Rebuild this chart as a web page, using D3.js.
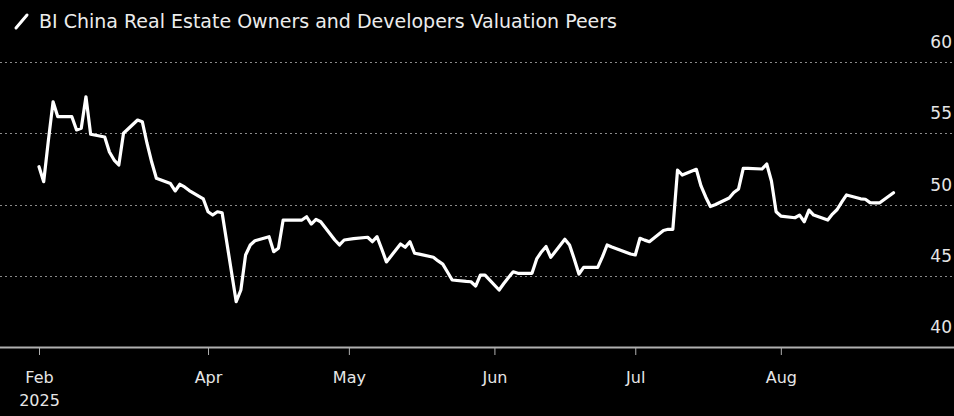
<!DOCTYPE html>
<html>
<head>
<meta charset="utf-8">
<script src="https://cdn.jsdelivr.net/npm/d3@7"></script>
<style>
  html, body { margin: 0; padding: 0; background: #000; }
  svg { display: block; font-family: "DejaVu Sans", sans-serif; }
</style>
</head>
<body>
<div id="chart_div"></div>
<script>
const title = "BI China Real Estate Owners and Developers Valuation Peers";

const dates = [
  "2025-02-24","2025-02-25","2025-02-26","2025-02-27","2025-02-28",
  "2025-03-03","2025-03-04","2025-03-05","2025-03-06","2025-03-07",
  "2025-03-10","2025-03-11","2025-03-12","2025-03-13","2025-03-14",
  "2025-03-17","2025-03-18","2025-03-19","2025-03-20","2025-03-21",
  "2025-03-24","2025-03-25","2025-03-26","2025-03-27","2025-03-28",
  "2025-03-31","2025-04-01","2025-04-02","2025-04-03","2025-04-04",
  "2025-04-07","2025-04-08","2025-04-09","2025-04-10","2025-04-11",
  "2025-04-14","2025-04-15","2025-04-16","2025-04-17",
  "2025-04-21","2025-04-22","2025-04-23","2025-04-24","2025-04-25",
  "2025-04-28","2025-04-29","2025-04-30","2025-05-02",
  "2025-05-05","2025-05-06","2025-05-07","2025-05-08","2025-05-09",
  "2025-05-12","2025-05-13","2025-05-14","2025-05-15","2025-05-16",
  "2025-05-19","2025-05-20","2025-05-21","2025-05-22","2025-05-23",
  "2025-05-26","2025-05-27","2025-05-28","2025-05-29","2025-05-30",
  "2025-06-02","2025-06-03","2025-06-04","2025-06-05","2025-06-06",
  "2025-06-09","2025-06-10","2025-06-11","2025-06-12","2025-06-13",
  "2025-06-16","2025-06-17","2025-06-18","2025-06-19","2025-06-20",
  "2025-06-23","2025-06-24","2025-06-25","2025-06-26","2025-06-27",
  "2025-06-30","2025-07-01","2025-07-02","2025-07-03","2025-07-04",
  "2025-07-07","2025-07-08","2025-07-09","2025-07-10","2025-07-11",
  "2025-07-14","2025-07-15","2025-07-16","2025-07-17","2025-07-18",
  "2025-07-21","2025-07-22","2025-07-23","2025-07-24","2025-07-25",
  "2025-07-28","2025-07-29","2025-07-30","2025-07-31","2025-08-01",
  "2025-08-04","2025-08-05","2025-08-06","2025-08-07","2025-08-08",
  "2025-08-11","2025-08-12","2025-08-13","2025-08-14","2025-08-15",
  "2025-08-18","2025-08-19","2025-08-20","2025-08-21","2025-08-22",
  "2025-08-25"
];

const values = [
  52.65, 51.60, 54.50, 57.21, 56.16,
  56.16, 55.23, 55.35, 57.56, 54.93,
  54.74, 53.68, 53.12, 52.77, 55.00,
  55.93, 55.81, 54.30, 52.98, 51.84,
  51.47, 50.95, 51.42, 51.23, 50.98,
  50.39, 49.49, 49.26, 49.49, 49.42,
  43.18, 44.00, 46.46, 47.16, 47.46,
  47.74, 46.69, 46.93, 48.91,
  48.91, 49.14, 48.63, 48.96, 48.79,
  47.51, 47.16, 47.51, 47.61,
  47.70, 47.39, 47.74, 46.88, 45.97,
  47.23, 47.00, 47.39, 46.58, 46.52,
  46.30, 46.04, 45.82, 45.26, 44.70,
  44.60, 44.58, 44.28, 45.05, 45.05,
  44.00, 44.46, 44.88, 45.28, 45.17,
  45.17, 46.18, 46.67, 47.05, 46.29,
  47.56, 47.16, 46.18, 45.12, 45.59,
  45.59, 46.32, 47.16, 47.02, 46.90,
  46.53, 46.46, 47.63, 47.50, 47.39,
  48.18, 48.26, 48.26, 52.42, 52.07,
  52.47, 51.30, 50.53, 49.86, 49.98,
  50.46, 50.84, 51.09, 52.54, 52.53,
  52.49, 52.84, 51.65, 49.49, 49.19,
  49.07, 49.26, 48.79, 49.61, 49.26,
  48.91, 49.33, 49.65, 50.18, 50.67,
  50.40, 50.37, 50.13, 50.11, 50.11,
  50.83
];

const yTicks = [40, 45, 50, 55, 60];
const xTickDates = ["2025-02-24","2025-04-01","2025-05-01","2025-06-01","2025-07-01","2025-08-01"];
const xTickLabels = ["Feb", "Apr", "May", "Jun", "Jul", "Aug"];
const xYearLabel = "2025";

const width = 954;
const height = 416;
const parse = d3.utcParse("%Y-%m-%d");

const data = dates.map((d, i) => ({ date: parse(d), value: values[i] }));

const svg = d3.select("#chart_div")
    .append("svg")
    .attr("width", width)
    .attr("height", height);

svg.append("rect")
    .attr("width", width)
    .attr("height", height)
    .attr("fill", "#000");

const x = d3.scaleUtc()
    .domain([parse("2025-02-24"), parse("2025-08-25")])
    .range([39, 893.5]);

const y = d3.scaleLinear()
    .domain([40, 60])
    .range([347, 62]);

// title with the little slash marker
svg.append("line")
    .attr("x1", 16).attr("y1", 28)
    .attr("x2", 27).attr("y2", 15)
    .attr("stroke", "#fff")
    .attr("stroke-width", 3)
    .attr("stroke-linecap", "round");

svg.append("text")
    .attr("x", 39)
    .attr("y", 28)
    .attr("fill", "#ececec")
    .attr("font-size", 19)
    .text(title);

// dotted gridlines
svg.append("g")
    .selectAll("line")
    .data(yTicks.filter(t => t > 40))
    .enter()
    .append("line")
    .attr("x1", 0)
    .attr("x2", width)
    .attr("y1", d => Math.round(y(d)) + 0.5)
    .attr("y2", d => Math.round(y(d)) + 0.5)
    .attr("stroke", "#8a8a8a")
    .attr("stroke-width", 1)
    .attr("stroke-dasharray", "2,3");

// right side labels, sitting above their gridline
const yAxis = (g) => g.append("g")
    .attr("transform", `translate(${width - 2},0)`)
    .call(d3.axisRight(y).tickValues(yTicks).tickSize(0).tickPadding(0))
    .call(g => g.select(".domain").remove())
    .call(g => g.selectAll("text")
        .attr("text-anchor", "end")
        .attr("dy", "-0.85em")
        .attr("fill", "#e6e6e6")
        .attr("font-size", 17)
        .attr("font-family", "DejaVu Sans, sans-serif"));

// bottom axis
const xAxis = (g) => g.append("g")
    .attr("transform", `translate(0,347)`)
    .call(d3.axisBottom(x)
        .tickValues(xTickDates.map(parse))
        .tickFormat((d, i) => xTickLabels[i])
        .tickSize(8)
        .tickPadding(17))
    .call(g => g.select(".domain")
        .attr("d", `M0,0.5H${width}`)
        .attr("stroke", "#b0b0b0")
        .attr("stroke-width", 2))
    .call(g => g.selectAll(".tick line").attr("stroke", "#b0b0b0"))
    .call(g => g.selectAll("text")
        .attr("fill", "#e6e6e6")
        .attr("font-size", 16)
        .attr("font-family", "DejaVu Sans, sans-serif"))
    .call(g => g.select(".tick text")
        .append("tspan")
        .attr("x", 0)
        .attr("dy", "1.4em")
        .text(xYearLabel));

svg.call(yAxis);
svg.call(xAxis);

const line = d3.line()
    .x(d => x(d.date))
    .y(d => y(d.value));

svg.append("path")
    .datum(data)
    .attr("fill", "none")
    .attr("stroke", "#fff")
    .attr("stroke-width", 3.2)
    .attr("stroke-linejoin", "round")
    .attr("stroke-linecap", "round")
    .attr("d", line);
</script>
</body>
</html>
